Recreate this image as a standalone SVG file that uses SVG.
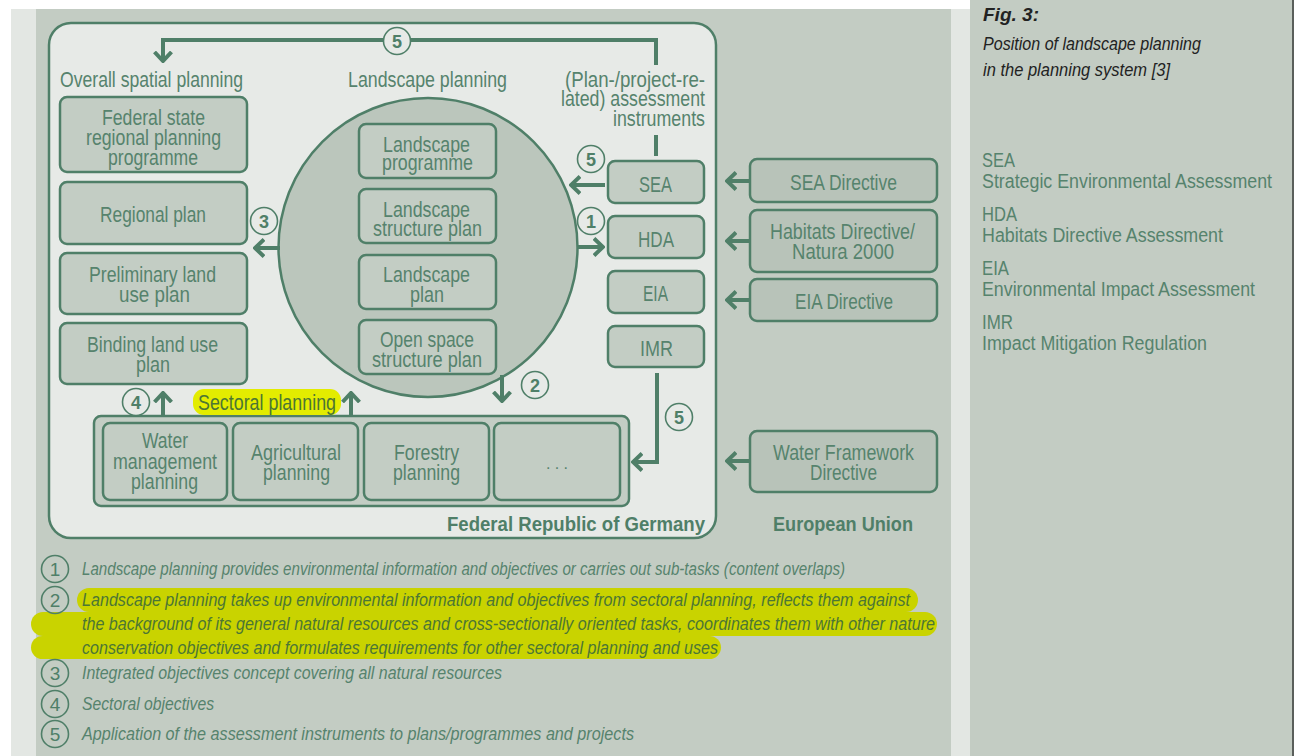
<svg xmlns="http://www.w3.org/2000/svg" width="1301" height="756" viewBox="0 0 1301 756">
  <style>
    text { font-family: "Liberation Sans", Arial, sans-serif; }
    .t { font-size: 22px; fill: #56836d; }
    .m { text-anchor: middle; }
    .e { text-anchor: end; }
    .box { fill: #c3cdc4; stroke: #4f7f68; stroke-width: 2.5; }
    .dir { fill: #b8c3b9; stroke: #4f7f68; stroke-width: 2.5; }
    .con { fill: none; stroke: #4f7f68; stroke-width: 4; }
    .num { fill: #e7eae7; stroke: #4f7f68; stroke-width: 1.6; }
    .numt { font-size: 18px; font-weight: bold; fill: #4f7f68; text-anchor: middle; }
    .leg { font-size: 18px; font-style: italic; fill: #56836d; }
    .hl { fill: #4c7634; }
    .lnum { font-size: 19px; fill: #4f7f68; text-anchor: middle; }
    .abbr { font-size: 20px; fill: #56836d; }
    .cap { font-size: 18px; font-style: italic; fill: #222; }
    .region { font-size: 21px; font-weight: bold; fill: #4f7f68; }
  </style>
  <defs>
    <marker id="head" viewBox="0 0 12 20" refX="10" refY="10" markerWidth="12" markerHeight="20" markerUnits="userSpaceOnUse" orient="auto">
      <path d="M1,1.5 L10,10 L1,18.5" fill="none" stroke="#4f7f68" stroke-width="4"/>
    </marker>
  </defs>

  <!-- page background and panels -->
  <rect x="0" y="0" width="1301" height="756" fill="#ffffff"/>
  <rect x="11" y="9" width="959" height="747" fill="#e3e7e3"/>
  <rect x="36" y="9" width="915" height="747" fill="#c3ccc3"/>
  <rect x="970" y="0" width="323" height="756" fill="#c3ccc3"/>
  <rect x="1292" y="0" width="2" height="756" fill="#5a5f5b"/>

  <!-- Federal Republic frame -->
  <rect x="49" y="23" width="667" height="515" rx="22" fill="#e7eae7" stroke="#4f7f68" stroke-width="2.5"/>

  <!-- caption -->
  <g id="caption">
    <text class="cap" x="983" y="21" font-weight="bold" fill="#111" textLength="56" lengthAdjust="spacingAndGlyphs">Fig. 3:</text>
    <text class="cap" x="983" y="50" textLength="218" lengthAdjust="spacingAndGlyphs">Position of landscape planning</text>
    <text class="cap" x="983" y="76" textLength="187" lengthAdjust="spacingAndGlyphs">in the planning system [3]</text>
  </g>

  <!-- abbreviations -->
  <g id="abbreviations">
    <text class="abbr" x="982" y="167" textLength="33" lengthAdjust="spacingAndGlyphs">SEA</text>
    <text class="abbr" x="982" y="188" textLength="290" lengthAdjust="spacingAndGlyphs">Strategic Environmental Assessment</text>
    <text class="abbr" x="982" y="221" textLength="35" lengthAdjust="spacingAndGlyphs">HDA</text>
    <text class="abbr" x="982" y="242" textLength="241" lengthAdjust="spacingAndGlyphs">Habitats Directive Assessment</text>
    <text class="abbr" x="982" y="275" textLength="27" lengthAdjust="spacingAndGlyphs">EIA</text>
    <text class="abbr" x="982" y="296" textLength="273" lengthAdjust="spacingAndGlyphs">Environmental Impact Assessment</text>
    <text class="abbr" x="982" y="329" textLength="31" lengthAdjust="spacingAndGlyphs">IMR</text>
    <text class="abbr" x="982" y="350" textLength="225" lengthAdjust="spacingAndGlyphs">Impact Mitigation Regulation</text>
  </g>

  <!-- column headings -->
  <g id="headings">
    <text class="t m" x="151.5" y="87" textLength="183" lengthAdjust="spacingAndGlyphs">Overall spatial planning</text>
    <text class="t m" x="427.5" y="87" textLength="159" lengthAdjust="spacingAndGlyphs">Landscape planning</text>
    <text class="t e" x="705" y="87" textLength="140" lengthAdjust="spacingAndGlyphs">(Plan-/project-re-</text>
    <text class="t e" x="705" y="106" textLength="144" lengthAdjust="spacingAndGlyphs">lated) assessment</text>
    <text class="t e" x="705" y="126" textLength="92" lengthAdjust="spacingAndGlyphs">instruments</text>
  </g>

  <!-- overall spatial planning -->
  <g id="federal-state">
    <rect class="box" x="60" y="97" width="187" height="75" rx="7"/>
    <text class="t m" x="153.5" y="125" textLength="103" lengthAdjust="spacingAndGlyphs">Federal state</text>
    <text class="t m" x="153.5" y="145" textLength="135" lengthAdjust="spacingAndGlyphs">regional planning</text>
    <text class="t m" x="153" y="165" textLength="90" lengthAdjust="spacingAndGlyphs">programme</text>
  </g>
  <g id="regional-plan">
    <rect class="box" x="60" y="182" width="187" height="62" rx="7"/>
    <text class="t m" x="153" y="222" textLength="106" lengthAdjust="spacingAndGlyphs">Regional plan</text>
  </g>
  <g id="preliminary-land-use">
    <rect class="box" x="60" y="253" width="187" height="61" rx="7"/>
    <text class="t m" x="152.5" y="282" textLength="127" lengthAdjust="spacingAndGlyphs">Preliminary land</text>
    <text class="t m" x="154.5" y="302" textLength="71" lengthAdjust="spacingAndGlyphs">use plan</text>
  </g>
  <g id="binding-land-use">
    <rect class="box" x="60" y="323" width="187" height="61" rx="7"/>
    <text class="t m" x="152.5" y="352" textLength="131" lengthAdjust="spacingAndGlyphs">Binding land use</text>
    <text class="t m" x="153" y="372" textLength="34" lengthAdjust="spacingAndGlyphs">plan</text>
  </g>

  <!-- landscape planning circle -->
  <g id="landscape-planning">
    <circle cx="428" cy="247.5" r="149.5" fill="#bbc6bc" stroke="#4f7f68" stroke-width="2.5"/>
  </g>
  <g id="landscape-programme">
    <rect class="box" x="359" y="124" width="137" height="54" rx="7"/>
    <text class="t m" x="426.5" y="152" textLength="87" lengthAdjust="spacingAndGlyphs">Landscape</text>
    <text class="t m" x="427.5" y="170" textLength="91" lengthAdjust="spacingAndGlyphs">programme</text>
  </g>
  <g id="landscape-structure-plan">
    <rect class="box" x="359" y="189" width="137" height="54" rx="7"/>
    <text class="t m" x="426.5" y="217" textLength="87" lengthAdjust="spacingAndGlyphs">Landscape</text>
    <text class="t m" x="427.5" y="236" textLength="109" lengthAdjust="spacingAndGlyphs">structure plan</text>
  </g>
  <g id="landscape-plan">
    <rect class="box" x="359" y="255" width="137" height="54" rx="7"/>
    <text class="t m" x="426.5" y="282" textLength="87" lengthAdjust="spacingAndGlyphs">Landscape</text>
    <text class="t m" x="427" y="302" textLength="34" lengthAdjust="spacingAndGlyphs">plan</text>
  </g>
  <g id="open-space-plan">
    <rect class="box" x="359" y="320" width="137" height="54" rx="7"/>
    <text class="t m" x="427" y="347" textLength="94" lengthAdjust="spacingAndGlyphs">Open space</text>
    <text class="t m" x="427" y="367" textLength="110" lengthAdjust="spacingAndGlyphs">structure plan</text>
  </g>

  <!-- assessment instruments -->
  <g id="sea">
    <rect class="box" x="608" y="161" width="96" height="42" rx="7"/>
    <text class="t m" x="655.5" y="192" textLength="33" lengthAdjust="spacingAndGlyphs">SEA</text>
  </g>
  <g id="hda">
    <rect class="box" x="608" y="216" width="96" height="42" rx="7"/>
    <text class="t m" x="656" y="247" textLength="36" lengthAdjust="spacingAndGlyphs">HDA</text>
  </g>
  <g id="eia">
    <rect class="box" x="608" y="271" width="96" height="42" rx="7"/>
    <text class="t m" x="655.5" y="301" textLength="25" lengthAdjust="spacingAndGlyphs">EIA</text>
  </g>
  <g id="imr">
    <rect class="box" x="608" y="326" width="96" height="41" rx="7"/>
    <text class="t m" x="656.5" y="356" textLength="33" lengthAdjust="spacingAndGlyphs">IMR</text>
  </g>

  <!-- EU directives -->
  <g id="sea-directive">
    <rect class="dir" x="750" y="159" width="187" height="43" rx="7"/>
    <text class="t m" x="843.5" y="190" textLength="107" lengthAdjust="spacingAndGlyphs">SEA Directive</text>
  </g>
  <g id="habitats-directive">
    <rect class="dir" x="750" y="210" width="187" height="62" rx="7"/>
    <text class="t m" x="842.5" y="239" textLength="145" lengthAdjust="spacingAndGlyphs">Habitats Directive/</text>
    <text class="t m" x="843" y="259" textLength="102" lengthAdjust="spacingAndGlyphs">Natura 2000</text>
  </g>
  <g id="eia-directive">
    <rect class="dir" x="750" y="279" width="187" height="42" rx="7"/>
    <text class="t m" x="844" y="309" textLength="98" lengthAdjust="spacingAndGlyphs">EIA Directive</text>
  </g>
  <g id="water-framework-directive">
    <rect class="dir" x="750" y="431" width="187" height="61" rx="7"/>
    <text class="t m" x="843.5" y="460" textLength="141" lengthAdjust="spacingAndGlyphs">Water Framework</text>
    <text class="t m" x="843.5" y="480" textLength="67" lengthAdjust="spacingAndGlyphs">Directive</text>
  </g>

  <!-- sectoral planning -->
  <g id="sectoral-planning">
    <rect x="94" y="416" width="535" height="90" rx="7" fill="#c3cdc4" stroke="#4f7f68" stroke-width="2.5"/>
    <rect x="193" y="389" width="148" height="26" rx="11" fill="#e3ec00"/>
    <text class="t m hl" x="267" y="410" textLength="138" lengthAdjust="spacingAndGlyphs">Sectoral planning</text>
  </g>
  <g id="water-management">
    <rect class="box" x="103" y="423" width="124" height="77" rx="7"/>
    <text class="t m" x="165" y="448" textLength="46" lengthAdjust="spacingAndGlyphs">Water</text>
    <text class="t m" x="165" y="469" textLength="104" lengthAdjust="spacingAndGlyphs">management</text>
    <text class="t m" x="164.5" y="489" textLength="67" lengthAdjust="spacingAndGlyphs">planning</text>
  </g>
  <g id="agricultural">
    <rect class="box" x="233" y="423" width="125" height="77" rx="7"/>
    <text class="t m" x="296" y="460" textLength="90" lengthAdjust="spacingAndGlyphs">Agricultural</text>
    <text class="t m" x="296.5" y="480" textLength="67" lengthAdjust="spacingAndGlyphs">planning</text>
  </g>
  <g id="forestry">
    <rect class="box" x="364" y="423" width="125" height="77" rx="7"/>
    <text class="t m" x="426.5" y="460" textLength="65" lengthAdjust="spacingAndGlyphs">Forestry</text>
    <text class="t m" x="426.5" y="480" textLength="67" lengthAdjust="spacingAndGlyphs">planning</text>
  </g>
  <g id="other-sectors">
    <rect class="box" x="494" y="423" width="126" height="77" rx="7"/>
    <text class="t m" x="557" y="469" textLength="22" lengthAdjust="spacing" style="font-size:16px">...</text>
  </g>

  <!-- region labels -->
  <g id="region-labels">
    <text class="region e" x="705" y="531" textLength="258" lengthAdjust="spacingAndGlyphs">Federal Republic of Germany</text>
    <text class="region m" x="843" y="531" textLength="140" lengthAdjust="spacingAndGlyphs">European Union</text>
  </g>

  <!-- connectors -->
  <g id="connectors">
    <path class="con" d="M656,65 V40 H163 V61" marker-end="url(#head)"/>
    <path class="con" d="M656,135 V156"/>
    <path class="con" d="M605,185 H571" marker-end="url(#head)"/>
    <path class="con" d="M577,247 H603" marker-end="url(#head)"/>
    <path class="con" d="M280,248 H255" marker-end="url(#head)"/>
    <path class="con" d="M502,375 V401" marker-end="url(#head)"/>
    <path class="con" d="M657,373 V462 H633" marker-end="url(#head)"/>
    <path class="con" d="M163,416 V393" marker-end="url(#head)"/>
    <path class="con" d="M351,416 V393" marker-end="url(#head)"/>
    <path class="con" d="M750,181 H727" marker-end="url(#head)"/>
    <path class="con" d="M750,241 H727" marker-end="url(#head)"/>
    <path class="con" d="M750,300 H727" marker-end="url(#head)"/>
    <path class="con" d="M750,461 H727" marker-end="url(#head)"/>

    <circle class="num" cx="397" cy="41" r="13.5"/>
    <text class="numt" x="397" y="47.5">5</text>
    <circle class="num" cx="591" cy="159" r="13.5"/>
    <text class="numt" x="591" y="165.5">5</text>
    <circle class="num" cx="591" cy="221" r="13.5"/>
    <text class="numt" x="591" y="227.5">1</text>
    <circle class="num" cx="264" cy="221" r="13.5"/>
    <text class="numt" x="264" y="227.5">3</text>
    <circle class="num" cx="535" cy="385" r="13.5"/>
    <text class="numt" x="535" y="391.5">2</text>
    <circle class="num" cx="679" cy="417" r="13.5"/>
    <text class="numt" x="679" y="423.5">5</text>
    <circle class="num" cx="136" cy="402" r="13.5"/>
    <text class="numt" x="136" y="408.5">4</text>
  </g>

  <!-- legend -->
  <g id="legend">
    <rect x="77" y="588" width="841" height="24" rx="12" fill="#c9d300"/>
    <rect x="31" y="612" width="906" height="24" rx="12" fill="#c9d300"/>
    <rect x="31" y="636" width="690" height="23" rx="11.5" fill="#c9d300"/>
    <g fill="none" stroke="#4f7f68" stroke-width="1.6">
      <circle cx="55" cy="569" r="13.5"/>
      <circle cx="55" cy="600" r="13.5"/>
      <circle cx="55" cy="673" r="13.5"/>
      <circle cx="55" cy="704" r="13.5"/>
      <circle cx="55" cy="734" r="13.5"/>
    </g>
    <text class="lnum" x="55" y="576">1</text>
    <text class="lnum" x="55" y="607">2</text>
    <text class="lnum" x="55" y="680">3</text>
    <text class="lnum" x="55" y="711">4</text>
    <text class="lnum" x="55" y="741">5</text>
    <text class="leg" x="82" y="575" textLength="763" lengthAdjust="spacingAndGlyphs">Landscape planning provides environmental information and objectives or carries out sub-tasks (content overlaps)</text>
    <text class="leg hl" x="82" y="606" textLength="828" lengthAdjust="spacingAndGlyphs">Landscape planning takes up environmental information and objectives from sectoral planning, reflects them against</text>
    <text class="leg hl" x="82" y="630" textLength="853" lengthAdjust="spacingAndGlyphs">the background of its general natural resources and cross-sectionally oriented tasks, coordinates them with other nature</text>
    <text class="leg hl" x="82" y="654" textLength="636" lengthAdjust="spacingAndGlyphs">conservation objectives and formulates requirements for other sectoral planning and uses</text>
    <text class="leg" x="82" y="679" textLength="420" lengthAdjust="spacingAndGlyphs">Integrated objectives concept covering all natural resources</text>
    <text class="leg" x="82" y="710" textLength="132" lengthAdjust="spacingAndGlyphs">Sectoral objectives</text>
    <text class="leg" x="82" y="740" textLength="552" lengthAdjust="spacingAndGlyphs">Application of the assessment instruments to plans/programmes and projects</text>
  </g>
</svg>
